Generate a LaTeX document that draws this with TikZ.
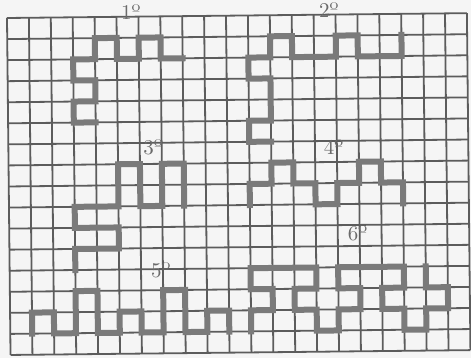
\documentclass[tikz,border=0pt]{standalone}
\usepackage{fontspec}
\begin{document}
\begin{tikzpicture}[
  gridline/.style={draw=black!64, line width=0.9pt},
  pathline/.style={draw=black!52, line width=3pt, line join=miter, line cap=rect},
  lbl/.style={text=black!58, font=\fontsize{10.5}{10.5}\selectfont, inner sep=0pt}
]
\fill[black!4] (0,0) rectangle (235.5pt,179pt);
\useasboundingbox (0,0) rectangle (235.5pt,179pt);
\begin{scope}[shift={(3.5pt,170pt)}, x={(10.95pt,0.115pt)}, y={(0.11pt,-10.53pt)}]
  % grid
  \foreach \r in {0,...,16} \draw[gridline] (0,\r) -- (21,\r);
  \foreach \c in {0,...,21} \draw[gridline] (\c,0) -- (\c,16);
  % shape 1
  \draw[pathline] (8,2) -- (7,2) -- (7,1) -- (6,1) -- (6,2) -- (5,2) -- (5,1) -- (4,1) -- (4,2) -- (3,2) -- (3,3) -- (4,3) -- (4,4) -- (3,4) -- (3,5) -- (4,5);
  % shape 2
  \draw[pathline] (18,1) -- (18,2) -- (16,2) -- (16,1) -- (15,1) -- (15,2) -- (13,2) -- (13,1) -- (12,1) -- (12,2) -- (11,2) -- (11,3) -- (12,3) -- (12,5) -- (11,5) -- (11,6) -- (12,6);
  % shape 3
  \draw[pathline] (8,9) -- (8,7) -- (7,7) -- (7,9) -- (6,9) -- (6,7) -- (5,7) -- (5,9) -- (3,9) -- (3,10) -- (5,10) -- (5,11) -- (3,11) -- (3,12);
  % shape 4
  \draw[pathline] (11,9) -- (11,8) -- (12,8) -- (12,7) -- (13,7) -- (13,8) -- (14,8) -- (14,9) -- (15,9) -- (15,8) -- (16,8) -- (16,7) -- (17,7) -- (17,8) -- (18,8) -- (18,9);
  % shape 5
  \draw[pathline] (1,15) -- (1,14) -- (2,14) -- (2,15) -- (3,15) -- (3,13) -- (4,13) -- (4,15) -- (5,15) -- (5,14) -- (6,14) -- (6,15) -- (7,15) -- (7,13) -- (8,13) -- (8,15) -- (9,15) -- (9,14) -- (10,14) -- (10,15);
  % shape 6
  \draw[pathline] (11,15) -- (11,14) -- (12,14) -- (12,13) -- (11,13) -- (11,12) -- (14,12) -- (14,13) -- (13,13) -- (13,14) -- (14,14) -- (14,15) -- (15,15) -- (15,14) -- (16,14) -- (16,13) -- (15,13) -- (15,12) -- (18,12) -- (18,13) -- (17,13) -- (17,14) -- (18,14) -- (18,15) -- (19,15) -- (19,14) -- (20,14) -- (20,13) -- (19,13) -- (19,12);
  % labels
  \node[lbl] (l1) at (5.65,-0.2) {1º};
  \node[lbl] (l2) at (14.7,-0.2) {2º};
  \node[lbl] (l3) at (6.6,6.2) {3º};
  \node[lbl] (l4) at (14.85,6.3) {4º};
  \node[lbl] (l5) at (6.9,12.05) {5º};
  \node[lbl] (l6) at (15.9,10.4) {6º};
\end{scope}
\end{tikzpicture}
\end{document}
